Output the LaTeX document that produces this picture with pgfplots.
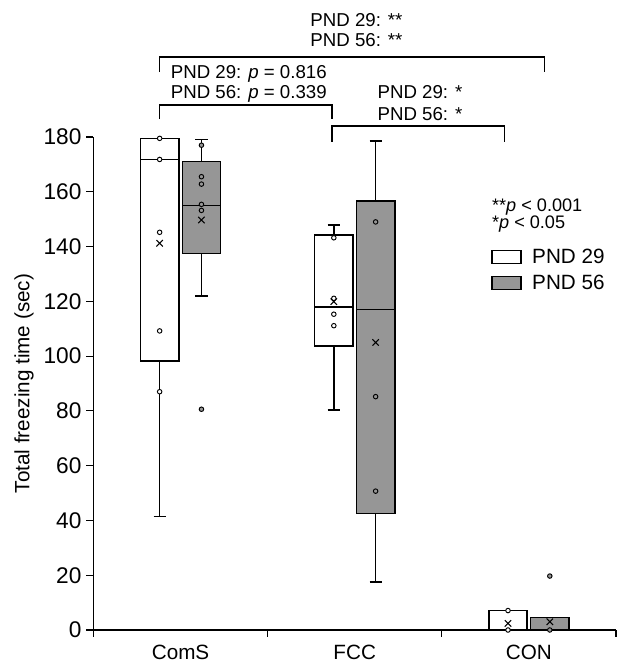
\documentclass[border=0pt]{standalone}
\usepackage{fontspec}
\setmainfont{Liberation Sans}
\usepackage{pgfplots}
\pgfplotsset{compat=1.18}
\definecolor{boxgray}{RGB}{150,150,150}

\begin{document}
\begin{tikzpicture}
\begin{axis}[
  at={(0pt,0pt)}, anchor=south west,
  width=391.9pt, height=369.75pt, scale only axis,
  xmin=-0.5, xmax=2.5, ymin=0, ymax=180,
  axis lines=left,
  axis line style={-, line width=1pt},
  xtick={0,1,2}, xticklabels={ComS,FCC,CON},
  minor xtick={-0.5,0.5,1.5,2.5},
  ytick={0,20,...,180},
  tick align=outside,
  major x tick style={draw=none},
  tick style={black, line width=0.9pt},
  major tick length=5.5pt, minor tick length=5pt,
  /pgf/number format/assume math mode=true,
  yticklabel style={font=\fontsize{17}{20}\selectfont},
  xticklabel style={font=\fontsize{15.5}{18}\selectfont, yshift=-2.5pt},
  ylabel={Total freezing time (sec)},
  ylabel style={at={(axis description cs:-0.133,0.5)}, anchor=center, font=\fontsize{15.5}{18}\selectfont},
  clip=false,
  unbounded coords=jump,
  legend image code/.code={\draw[#1, line width=0.9pt] (0pt,-4.75pt) rectangle (21.75pt,4.75pt);},
  legend style={at={(axis description cs:0.761,0.73)}, anchor=west, draw=none, fill=none,
    font=\fontsize{15.5}{18}\selectfont, row sep=3pt, inner sep=0pt,
    /tikz/column 1/.style={column sep=6pt}},
  legend cell align=left,
]

% legend swatches
\addlegendimage{draw=black, fill=white}
\addlegendentry{PND 29}
\addlegendimage{draw=black, fill=boxgray}
\addlegendentry{PND 56}

% boxes (quartile 1 to quartile 3), PND 29 white, PND 56 grey
\addplot[draw=black, fill=white, line width=1.1pt, forget plot] coordinates
  {(-0.23,98.3) (-0.01,98.3) (-0.01,179.5) (-0.23,179.5)} -- cycle;
\addplot[draw=black, fill=boxgray, line width=1.1pt, forget plot] coordinates
  {(0.01,137.5) (0.23,137.5) (0.23,171) (0.01,171)} -- cycle;
\addplot[draw=black, fill=white, line width=1.1pt, forget plot] coordinates
  {(0.77,103.7) (0.99,103.7) (0.99,144.2) (0.77,144.2)} -- cycle;
\addplot[draw=black, fill=boxgray, line width=1.1pt, forget plot] coordinates
  {(1.01,42.6) (1.23,42.6) (1.23,156.7) (1.01,156.7)} -- cycle;
\addplot[draw=black, fill=white, line width=1.1pt, forget plot] coordinates
  {(1.77,0) (1.99,0) (1.99,7.1) (1.77,7.1)} -- cycle;
\addplot[draw=black, fill=boxgray, line width=1.1pt, forget plot] coordinates
  {(2.01,0) (2.23,0) (2.23,4.6) (2.01,4.6)} -- cycle;

% whiskers, caps and medians
\addplot[black, line width=1.1pt, forget plot] coordinates {
  (-0.12,98.3) (-0.12,41.5) (0,nan) (-0.155,41.5) (-0.085,41.5) (0,nan)
  (-0.155,179.5) (-0.085,179.5) (0,nan) (-0.23,171.8) (-0.01,171.8) (0,nan)
  (0.12,171) (0.12,179.1) (0,nan) (0.085,179.1) (0.155,179.1) (0,nan)
  (0.12,137.5) (0.12,122) (0,nan) (0.085,122) (0.155,122) (0,nan)
  (0.01,155) (0.23,155) (0,nan)
  (0.88,144.2) (0.88,147.9) (0,nan) (0.845,147.9) (0.915,147.9) (0,nan)
  (0.88,103.7) (0.88,80.3) (0,nan) (0.845,80.3) (0.915,80.3) (0,nan)
  (0.77,118) (0.99,118) (0,nan)
  (1.12,156.7) (1.12,178.6) (0,nan) (1.085,178.6) (1.155,178.6) (0,nan)
  (1.12,42.6) (1.12,17.6) (0,nan) (1.085,17.6) (1.155,17.6) (0,nan)
  (1.01,117.1) (1.23,117.1)};

% individual values
\addplot[only marks, mark=*, mark size=1.7pt,
  mark options={fill=white, draw=black, line width=0.7pt}, forget plot] coordinates {
  (-0.12,179.5) (-0.12,171.8) (-0.12,145.2) (-0.12,109.2) (-0.12,87)
  (0.88,143.2) (0.88,121.1) (0.88,115.3) (0.88,111.1)
  (1.88,7.1) (1.88,0)};
\addplot[only marks, mark=*, mark size=1.7pt,
  mark options={fill=boxgray, draw=black, line width=0.7pt}, forget plot] coordinates {
  (0.12,177) (0.12,165.5) (0.12,162.8) (0.12,155.4) (0.12,153.2) (0.12,80.6)
  (1.12,149) (1.12,85.2) (1.12,50.7)
  (2.12,0) (2.12,19.7)};

% means
\addplot[only marks, mark=x, mark size=3.4pt, line width=0.8pt, black, forget plot] coordinates {
  (-0.12,141.2) (0.12,149.7) (0.88,119.9) (1.12,105) (1.88,2.4) (2.12,3.0)};

% significance brackets
\draw[line width=0.9pt] (axis cs:-0.12,203.7) -- (axis cs:-0.12,209.2) -- (axis cs:2.09,209.2) -- (axis cs:2.09,203.7);
\draw[line width=0.9pt] (axis cs:-0.12,186.5) -- (axis cs:-0.12,191.7) -- (axis cs:0.87,191.7) -- (axis cs:0.87,186.5);
\draw[line width=0.9pt] (axis cs:0.87,178.2) -- (axis cs:0.87,184) -- (axis cs:1.86,184) -- (axis cs:1.86,178.2);

\begin{scope}[every node/.style={inner sep=0pt, font=\fontsize{14}{16}\selectfont}]
\node[anchor=base] at (axis cs:1.01,220.2) {PND 29: **};
\node[anchor=base] at (axis cs:1.01,212.9) {PND 56: **};
\node[anchor=base west] at (axis cs:-0.057,201.5) {PND 29: \textit{p} = 0.816};
\node[anchor=base west] at (axis cs:-0.057,194.2) {PND 56: \textit{p} = 0.339};
\node[anchor=base west] at (axis cs:1.13,194.0) {PND 29: *};
\node[anchor=base west] at (axis cs:1.13,186.2) {PND 56: *};
\end{scope}

\node[anchor=base west, inner sep=0pt, font=\fontsize{13.6}{16}\selectfont] at (axis cs:1.787,152.9) {**\textit{p} < 0.001};
\node[anchor=base west, inner sep=0pt, font=\fontsize{13.6}{16}\selectfont] at (axis cs:1.787,146.7) {*\textit{p} < 0.05};

\end{axis}
\pgfresetboundingbox
\path[use as bounding box] (-70.1pt,-25.5pt) rectangle (394.9pt,472.5pt);
\end{tikzpicture}
\end{document}
